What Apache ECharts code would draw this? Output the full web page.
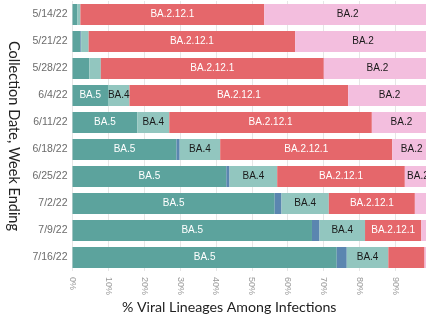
<!DOCTYPE html>
<html>
<head>
<meta charset="utf-8">
<script src="https://cdn.jsdelivr.net/npm/echarts@6/dist/echarts.min.js"></script>
<style>
html, body { margin: 0; padding: 0; background: #fff; }
#chart { width: 426px; height: 319px; }
</style>
</head>
<body>
<div id="chart"></div>
<script>
// week ending dates, top to bottom
var weeks = ['5/14/22', '5/21/22', '5/28/22', '6/4/22', '6/11/22', '6/18/22', '6/25/22', '7/2/22', '7/9/22', '7/16/22'];
// share of infections (%)
var ba5 = [1.3, 2.2, 4.7, 9.9, 18.1, 29.0, 42.9, 56.4, 66.8, 73.7];
var ba46 = [0, 0.2, 0, 0, 0, 0.9, 0.9, 1.9, 2.1, 2.8];
var ba4 = [0.9, 2.1, 3.2, 6.0, 8.9, 11.3, 13.3, 13.2, 12.7, 11.6];
var ba2121 = [51.3, 57.6, 62.2, 61.0, 56.5, 48.0, 35.6, 24.0, 15.7, 10.1];
var ba2 = [46.5, 37.9, 29.9, 23.1, 16.5, 10.8, 7.3, 4.5, 2.7, 1.8];
var xTicks = ['0%', '10%', '20%', '30%', '40%', '50%', '60%', '70%', '80%', '90%', '100%'];

var chart = echarts.init(document.getElementById('chart'));

// label only when the name fits in the segment
function seg(name, data, color, textColor, minShow) {
    return {
        name: name, type: 'bar', stack: 'total', barCategoryGap: '22%',
        itemStyle: { color: color },
        label: {
            show: true, position: 'inside', color: textColor,
            fontSize: 10, fontFamily: 'Liberation Sans',
            formatter: function (p) { return p.value >= minShow ? name : ''; }
        },
        emphasis: { disabled: true },
        data: data
    };
}

chart.setOption({
    animation: false,
    grid: { left: 72.5, right: -5, top: 1, bottom: 48, outerBoundsMode: 'none', containLabel: false },
    xAxis: {
        type: 'value', min: 0, max: 100, interval: 10,
        axisLine: { show: false },
        axisTick: { show: false },
        splitLine: { lineStyle: { color: '#e6e6e6', width: 1 } },
        axisLabel: {
            rotate: -90, color: '#9a9a9a', fontSize: 9, margin: 6,
            fontFamily: 'Liberation Sans',
            formatter: function (v) { return xTicks[v / 10]; }
        }
    },
    yAxis: {
        type: 'category', inverse: true, data: weeks,
        axisLine: { show: false },
        axisTick: { show: false },
        axisLabel: { color: '#6b6b6b', fontSize: 10.5, margin: 5, fontFamily: 'Liberation Sans' },
        name: 'Collection Date, Week Ending',
        nameLocation: 'middle', nameRotate: -90, nameGap: 49,
        nameTextStyle: { color: '#222', fontSize: 14.5, fontFamily: 'Lato' }
    },
    graphic: [{
        type: 'text', left: 122, top: 300,
        style: { text: '% Viral Lineages Among Infections', fill: '#222', fontSize: 14.2, fontFamily: 'Lato' }
    }],
    series: [
        seg('BA.5', ba5, '#5ca39d', '#ffffff', 8),
        seg('BA.4.6', ba46, '#5b86b0', '#ffffff', 999),
        seg('BA.4', ba4, '#92c6bf', '#1a1a1a', 5),
        seg('BA.2.12.1', ba2121, '#e5676b', '#ffffff', 12),
        seg('BA.2', ba2, '#f3bede', '#1a1a1a', 6)
    ]
});
</script>
</body>
</html>
